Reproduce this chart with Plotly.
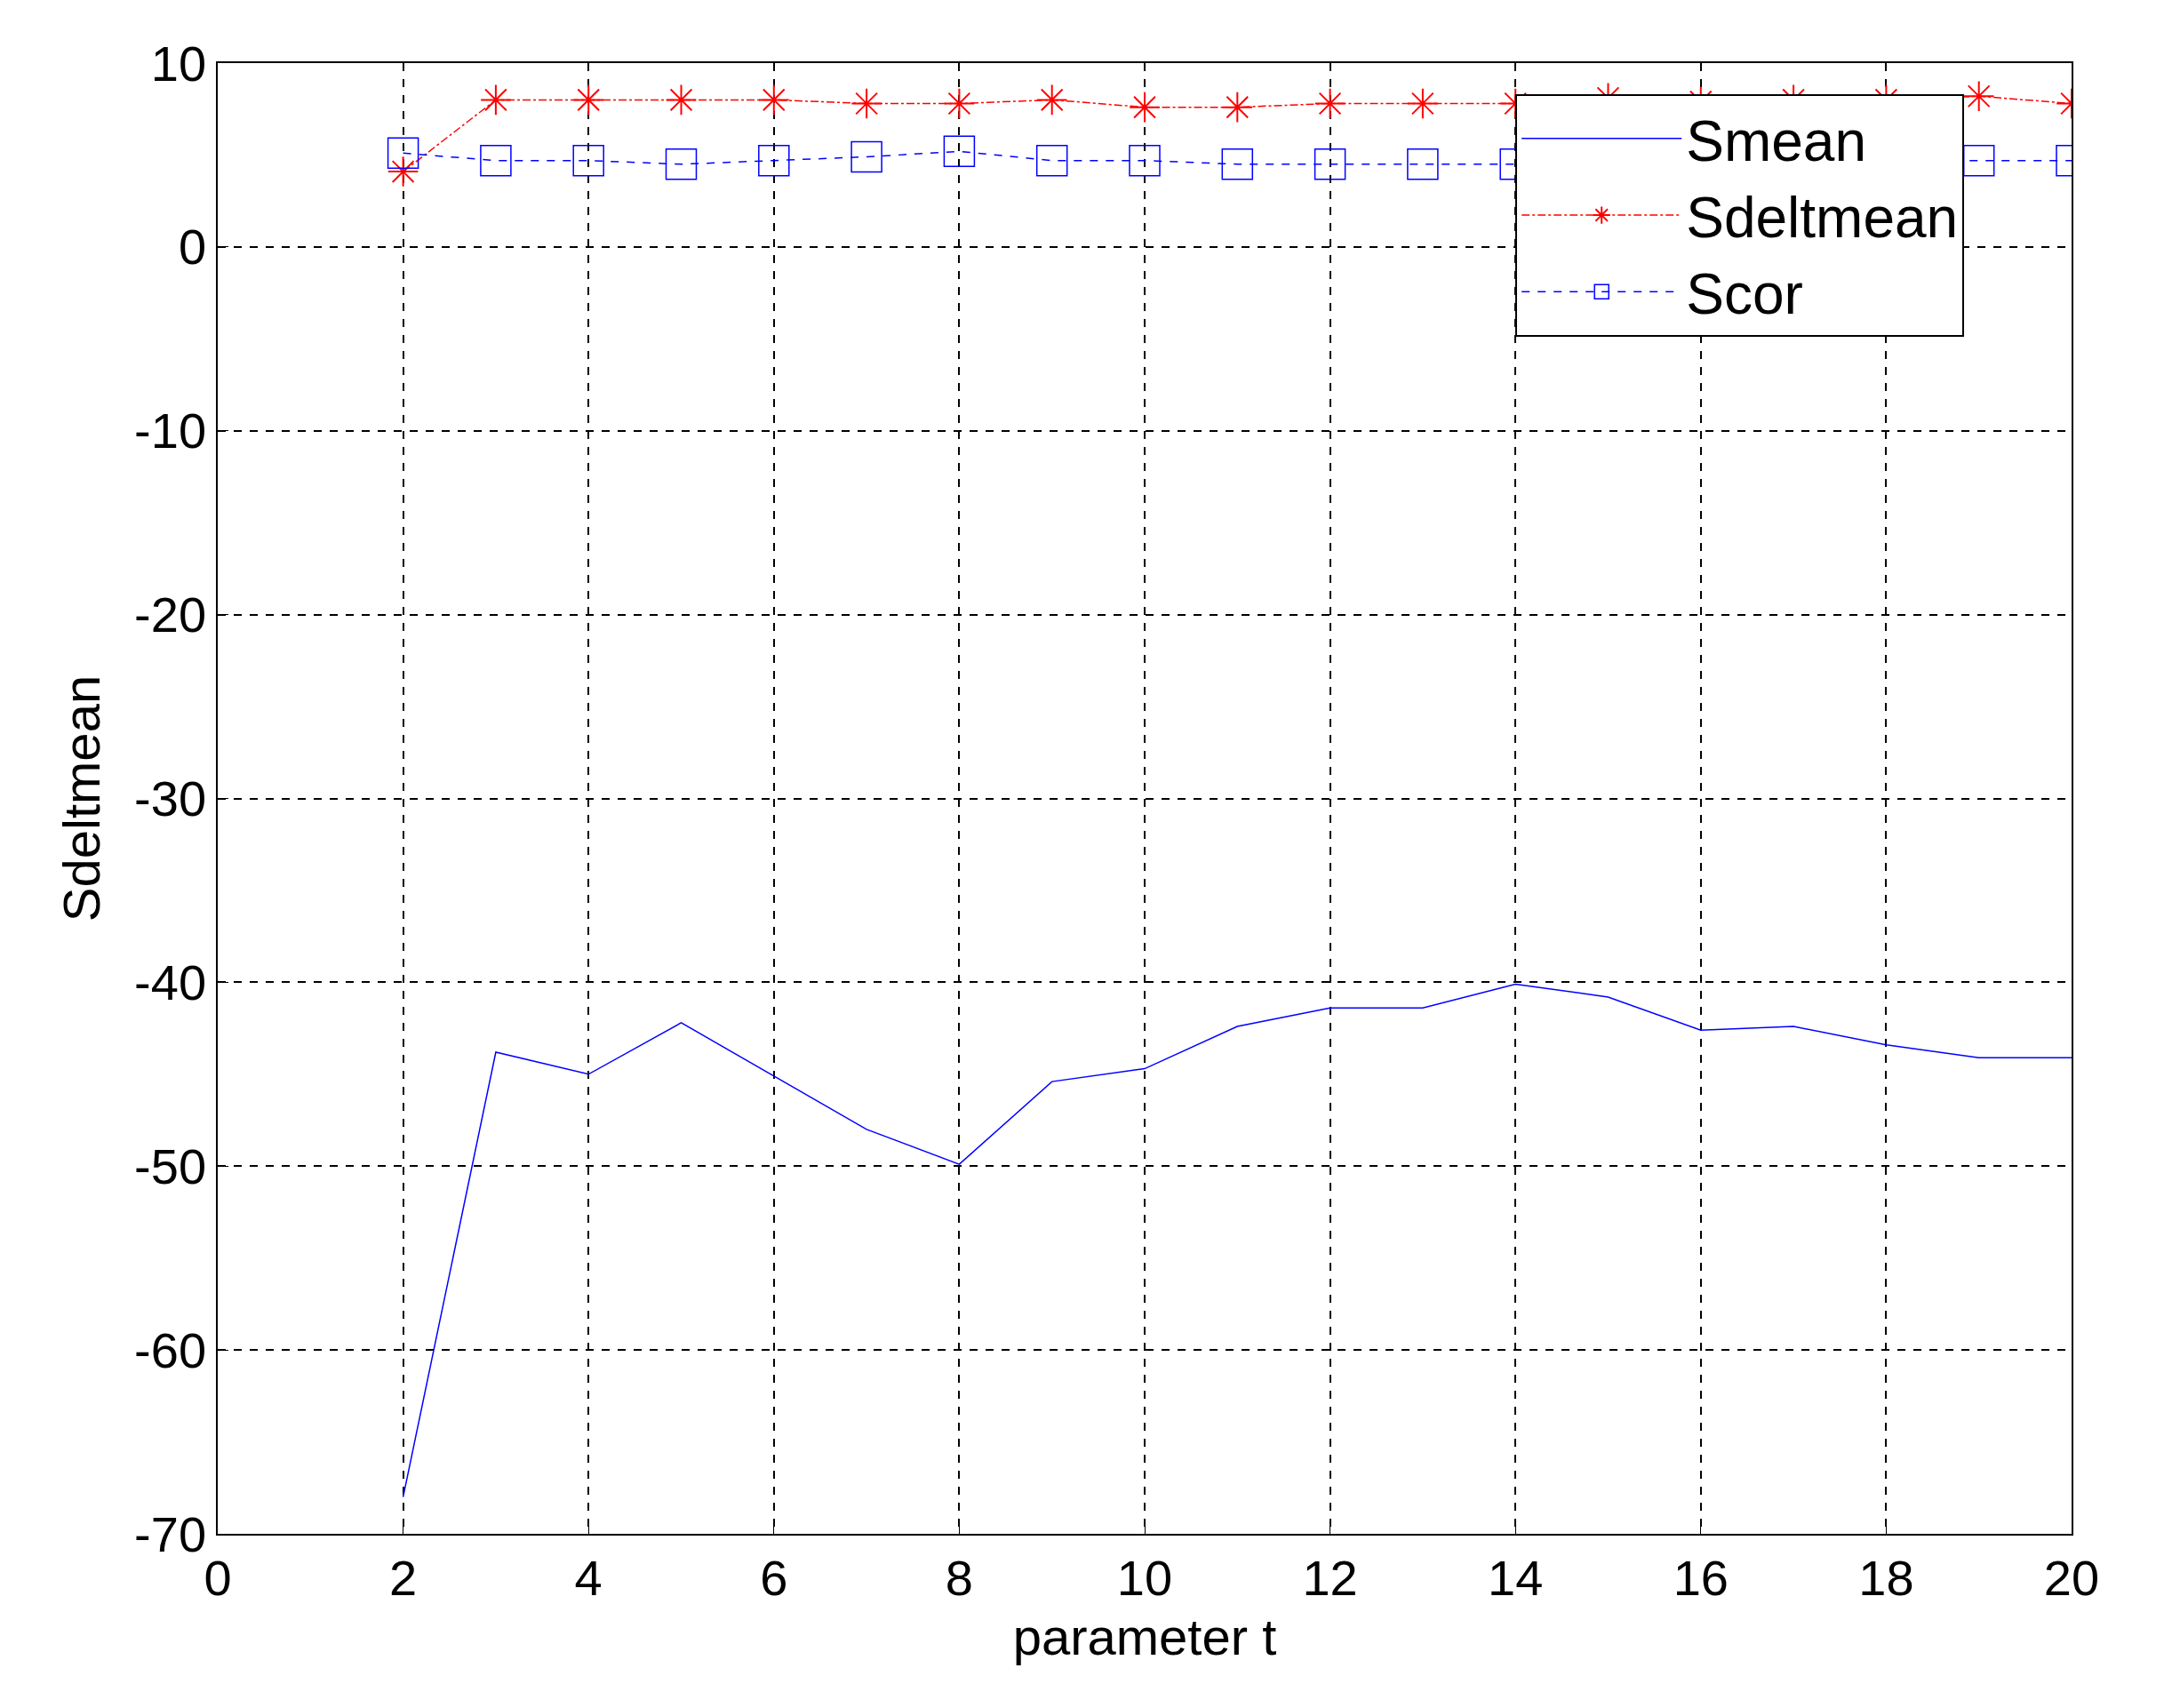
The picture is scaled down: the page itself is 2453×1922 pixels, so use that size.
import plotly.graph_objs as go

t = list(range(2, 21))
smean = [-68, -43.8, -45, -42.2, -45.1, -48, -49.9, -45.4, -44.7, -42.4,
         -41.4, -41.4, -40.1, -40.8, -42.6, -42.4, -43.4, -44.1, -44.1]
sdeltmean = [4.1, 8.0, 8.0, 8.0, 8.0, 7.8, 7.8, 8.0, 7.6, 7.6,
             7.8, 7.8, 7.8, 8.1, 7.9, 8.0, 8.0, 8.2, 7.8]
scor = [5.1, 4.7, 4.7, 4.5, 4.7, 4.9, 5.2, 4.7, 4.7, 4.5,
        4.5, 4.5, 4.5, 4.5, 4.6, 4.7, 4.7, 4.7, 4.7]
yticks = [10, 0, -10, -20, -30, -40, -50, -60, -70]
ytick_labels = ["10", "0", "-10", "-20", "-30", "-40", "-50", "-60", "-70"]

fig = go.Figure()
fig.add_trace(go.Scatter(x=t, y=smean, name="Smean", mode="lines",
                         line=dict(color="blue", width=1.5)))
fig.add_trace(go.Scatter(x=t, y=sdeltmean, name="Sdeltmean", mode="lines+markers",
                         line=dict(color="red", width=1.5, dash="dashdot"),
                         marker=dict(symbol="asterisk-open", size=28, color="red",
                                     line=dict(color="red", width=2))))
fig.add_trace(go.Scatter(x=t, y=scor, name="Scor", mode="lines+markers",
                         line=dict(color="blue", width=1.5, dash="dash"),
                         marker=dict(symbol="square-open", size=34, color="blue",
                                     line=dict(color="blue", width=1.5))))

axis = dict(showline=True, linecolor="black", linewidth=1.5, mirror=True,
            ticks="inside", ticklen=12, tickcolor="black",
            showgrid=True, gridcolor="black", griddash="dash", gridwidth=1.5,
            zeroline=False, tickfont=dict(size=56, color="black", family="Liberation Sans"))

fig.update_layout(
    width=2453, height=1922,
    paper_bgcolor="white", plot_bgcolor="white",
    margin=dict(l=237, r=130, t=63, b=204),
    font=dict(family="Liberation Sans", color="black"),
    xaxis=dict(axis, range=[0, 20], dtick=2,
               title=dict(text="parameter t", font=dict(size=58), standoff=15)),
    yaxis=dict(axis, range=[-70, 10], tickvals=yticks, ticktext=ytick_labels,
               title=dict(text="Sdeltmean", font=dict(size=58), standoff=20)),
    legend=dict(x=0.70, y=0.979, xanchor="left", yanchor="top",
                bgcolor="white", bordercolor="black", borderwidth=2,
                font=dict(size=64), itemwidth=180),
    showlegend=True,
)
fig.write_html("out.html")
